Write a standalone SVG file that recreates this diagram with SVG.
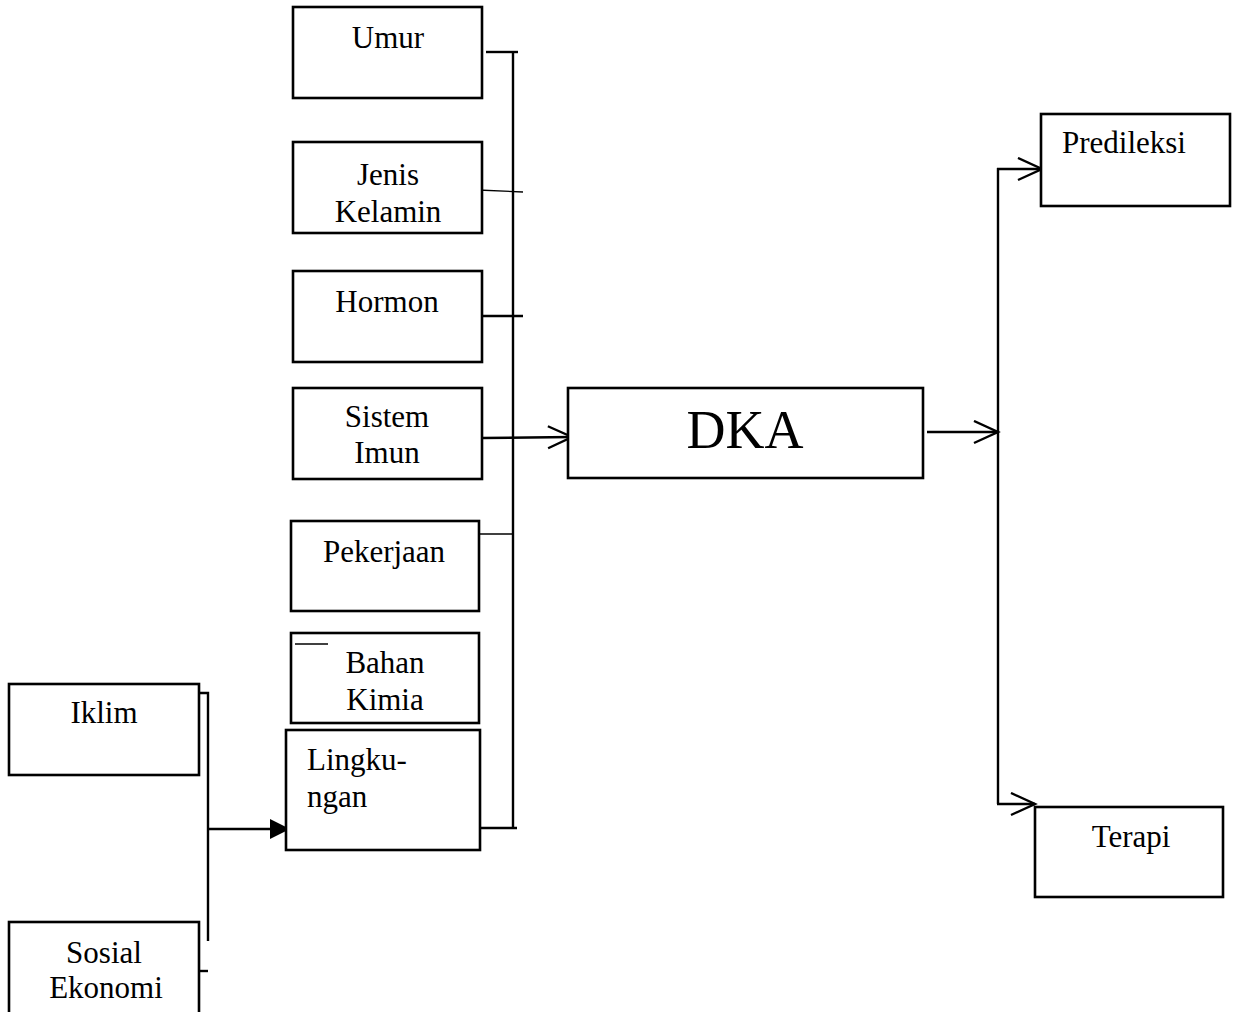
<svg xmlns="http://www.w3.org/2000/svg" width="1236" height="1012" viewBox="0 0 1236 1012">
<defs>
<style>
.box{fill:#fff;stroke:#000;stroke-width:2.6}
.t{font-family:"Liberation Serif","Times New Roman",serif;font-size:31px;fill:#000;text-anchor:middle}
.l{text-anchor:start}
.c{fill:none;stroke:#000;stroke-width:2.4}
.thin{fill:none;stroke:#000;stroke-width:1.4}
</style>
<marker id="open" markerWidth="30" markerHeight="30" refX="25" refY="12" orient="auto" markerUnits="userSpaceOnUse">
<path d="M1,1 L25,12 L1,23" fill="none" stroke="#000" stroke-width="2.4"/>
</marker>
<marker id="fill" markerWidth="24" markerHeight="24" refX="20" refY="10" orient="auto" markerUnits="userSpaceOnUse">
<path d="M0,0 L20,10 L0,20 Z" fill="#000"/>
</marker>
</defs>
<rect width="1236" height="1012" fill="#fff"/>
<g id="connectors">
<line class="c" x1="513" y1="52" x2="513" y2="828"/>
<line class="c" x1="486" y1="52" x2="518" y2="52"/>
<line class="thin" x1="478" y1="190" x2="523" y2="192"/>
<line class="c" x1="482" y1="316" x2="523" y2="316"/>
<line class="c" x1="482" y1="438" x2="572" y2="437" marker-end="url(#open)"/>
<line class="thin" x1="479" y1="534" x2="513" y2="534"/>
<line class="c" x1="480" y1="828" x2="517" y2="828"/>
<line class="c" x1="927" y1="432" x2="998" y2="432" marker-end="url(#open)"/>
<line class="c" x1="998" y1="168" x2="998" y2="804"/>
<line class="c" x1="997" y1="169" x2="1042" y2="169" marker-end="url(#open)"/>
<line class="c" x1="997" y1="804" x2="1035" y2="804" marker-end="url(#open)"/>
<polyline class="c" points="199,693 208,693 208,941"/>
<line class="c" x1="199" y1="971" x2="208" y2="971"/>
<line class="c" x1="208" y1="829" x2="290" y2="829" marker-end="url(#fill)"/>
</g>
<g id="umur"><rect class="box" x="293" y="7" width="189" height="91"/><text class="t" x="388" y="48">Umur</text></g>
<g id="jenis-kelamin"><rect class="box" x="293" y="142" width="189" height="91"/><text class="t" x="388" y="185">Jenis</text><text class="t" x="388" y="222">Kelamin</text></g>
<g id="hormon"><rect class="box" x="293" y="271" width="189" height="91"/><text class="t" x="387" y="312">Hormon</text></g>
<g id="sistem-imun"><rect class="box" x="293" y="388" width="189" height="91"/><text class="t" x="387" y="427">Sistem</text><text class="t" x="387" y="463">Imun</text></g>
<g id="pekerjaan"><rect class="box" x="291" y="521" width="188" height="90"/><text class="t" x="384" y="562">Pekerjaan</text></g>
<g id="bahan-kimia"><rect class="box" x="291" y="633" width="188" height="90"/><line class="thin" x1="295" y1="644" x2="328" y2="644"/><text class="t" x="385" y="673">Bahan</text><text class="t" x="385" y="710">Kimia</text></g>
<g id="lingkungan"><rect class="box" x="286" y="730" width="194" height="120"/><text class="t l" x="307" y="770">Lingku-</text><text class="t l" x="307" y="807">ngan</text></g>
<g id="dka"><rect class="box" x="568" y="388" width="355" height="90"/><text class="t" x="745" y="448" style="font-size:54px">DKA</text></g>
<g id="predileksi"><rect class="box" x="1041" y="114" width="189" height="92"/><text class="t l" x="1062" y="153">Predileksi</text></g>
<g id="terapi"><rect class="box" x="1035" y="807" width="188" height="90"/><text class="t" x="1131" y="847">Terapi</text></g>
<g id="iklim"><rect class="box" x="9" y="684" width="190" height="91"/><text class="t" x="104" y="723">Iklim</text></g>
<g id="sosial-ekonomi"><rect class="box" x="9" y="922" width="190" height="100"/><text class="t" x="104" y="963">Sosial</text><text class="t" x="106" y="998">Ekonomi</text></g>
</svg>
